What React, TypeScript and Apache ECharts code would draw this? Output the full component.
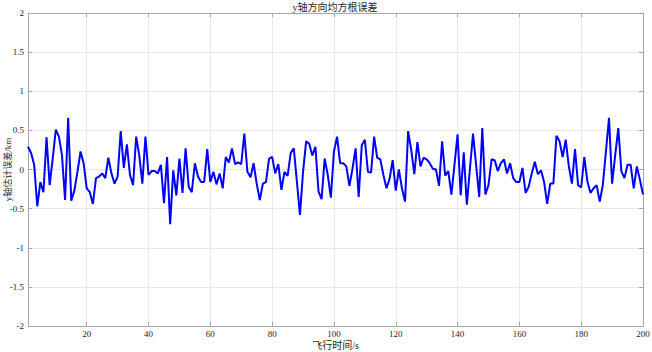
import React, { useEffect, useRef } from "react";
import * as echarts from "echarts";

// y-axis estimation error (km) sampled at t = 1..200 s
const errorValues: number[] = [
  0.29, 0.21, 0.06, -0.47, -0.16, -0.29, 0.41, -0.2, 0.14, 0.51,
  0.42, 0.18, -0.39, 0.66, -0.4, -0.27, -0.03, 0.23, 0.08, -0.24,
  -0.29, -0.44, -0.11, -0.09, -0.05, -0.11, 0.15, -0.05, -0.18, -0.09,
  0.49, 0.02, 0.32, -0.07, -0.2, 0.42, 0.18, -0.18, 0.42, -0.07,
  -0.02, -0.02, -0.05, 0.06, -0.43, 0.16, -0.7, -0.01, -0.33, 0.14,
  -0.3, 0.27, -0.22, -0.29, 0.08, -0.09, -0.16, -0.16, 0.26, -0.16,
  -0.03, -0.19, -0.05, -0.24, 0.16, 0.09, 0.27, 0.07, 0.09, 0.07,
  0.46, -0.03, -0.1, 0.08, -0.18, -0.39, -0.18, -0.16, 0.14, 0.16,
  -0.05, 0.07, -0.26, -0.03, -0.08, 0.21, 0.27, -0.15, -0.58, -0.03,
  0.36, 0.33, 0.18, 0.29, -0.28, -0.38, 0.14, -0.07, -0.36, 0.23,
  0.42, 0.08, 0.08, 0.04, -0.21, 0.01, 0.27, -0.35, 0.31, 0.38,
  -0.03, -0.04, 0.42, 0.15, 0.13, -0.07, -0.24, -0.12, 0.12, -0.27,
  0.0, -0.24, -0.41, 0.49, 0.25, -0.06, 0.35, 0.04, 0.15, 0.13,
  0.08, 0.01, 0.0, -0.21, 0.36, -0.08, -0.02, -0.32, 0.06, 0.45,
  -0.33, 0.22, -0.45, 0.01, 0.46, 0.06, -0.35, 0.53, -0.32, -0.2,
  0.13, 0.12, -0.02, 0.08, 0.13, -0.05, 0.08, -0.11, -0.16, -0.16,
  0.02, -0.3, -0.22, -0.05, 0.1, -0.06, -0.01, -0.16, -0.44, -0.18,
  -0.18, 0.43, 0.36, 0.16, 0.38, 0.04, -0.18, 0.26, -0.2, -0.23,
  0.16, -0.15, -0.3, -0.24, -0.2, -0.41, -0.2, 0.23, 0.66, -0.18,
  0.18, 0.53, -0.02, -0.11, 0.06, 0.06, -0.24, 0.04, -0.13, -0.32,
];

const flightTimes: number[] = errorValues.map((_, i) => i + 1);
const xTickValues: number[] = [20, 40, 60, 80, 100, 120, 140, 160, 180, 200];

const titleText = "y轴方向均方根误差";
const xName = "飞行时间/s";
const yName = "y轴估计误差/km";

const FONT = "'Liberation Serif', 'Noto Sans CJK SC', serif";
const BOX = "#a8a8a8";
const GRID = "#e8e8e8";
const TEXT = "#262626";

export default function App() {
  const ref = useRef<HTMLDivElement>(null);
  useEffect(() => {
    const chart = echarts.init(ref.current!, null, { renderer: "svg" });
    const data = flightTimes.map((t, i) => [t, errorValues[i]]);
    chart.setOption({
      animation: false,
      backgroundColor: "#ffffff",
      title: {
        text: titleText,
        left: 335,
        textAlign: "center",
        top: 2,
        padding: 0,
        textStyle: { fontFamily: FONT, fontSize: 10, fontWeight: "normal", color: TEXT },
      },
      grid: { left: 28, right: 9, top: 13, bottom: 26, containLabel: false, outerBoundsMode: "none" },
      xAxis: [
        {
          type: "value",
          min: 1,
          max: 200,
          name: xName,
          nameLocation: "middle",
          nameGap: 14,
          nameMoveOverlap: false,
          nameTextStyle: { fontFamily: FONT, fontSize: 10, color: TEXT, verticalAlign: "top" },
          axisLine: { show: true, onZero: false, lineStyle: { color: BOX, width: 1 } },
          axisTick: { show: true, inside: true, length: 4, customValues: xTickValues, lineStyle: { color: BOX } },
          axisLabel: { show: true, customValues: xTickValues, margin: 3, fontFamily: FONT, fontSize: 9, color: TEXT },
          splitLine: { show: true, lineStyle: { color: GRID, width: 1 } },
        },
        {
          type: "value",
          position: "top",
          min: 1,
          max: 200,
          axisLine: { show: true, onZero: false, lineStyle: { color: BOX, width: 1 } },
          axisTick: { show: true, inside: true, length: 4, customValues: xTickValues, lineStyle: { color: BOX } },
          axisLabel: { show: false },
          splitLine: { show: false },
        },
      ],
      yAxis: [
        {
          type: "value",
          min: -2,
          max: 2,
          interval: 0.5,
          name: yName,
          nameLocation: "middle",
          nameGap: 16,
          nameMoveOverlap: false,
          nameTextStyle: { fontFamily: FONT, fontSize: 9, color: TEXT },
          axisLine: { show: true, onZero: false, lineStyle: { color: BOX, width: 1 } },
          axisTick: { show: true, inside: true, length: 4, lineStyle: { color: BOX } },
          axisLabel: { margin: 4, fontFamily: FONT, fontSize: 9, color: TEXT },
          splitLine: { show: true, lineStyle: { color: GRID, width: 1 } },
        },
        {
          type: "value",
          position: "right",
          min: -2,
          max: 2,
          interval: 0.5,
          axisLine: { show: true, onZero: false, lineStyle: { color: BOX, width: 1 } },
          axisTick: { show: true, inside: true, length: 4, lineStyle: { color: BOX } },
          axisLabel: { show: false },
          splitLine: { show: false },
        },
      ],
      series: [
        {
          type: "line",
          xAxisIndex: 0,
          yAxisIndex: 0,
          data,
          showSymbol: false,
          symbol: "none",
          lineStyle: { color: "#0000ff", width: 2 },
          z: 5,
        },
      ],
    });
    return () => chart.dispose();
  }, []);
  return (
    <div
      ref={ref}
      style={{ position: "fixed", left: 0, top: 0, width: 652, height: 352 }}
    />
  );
}
